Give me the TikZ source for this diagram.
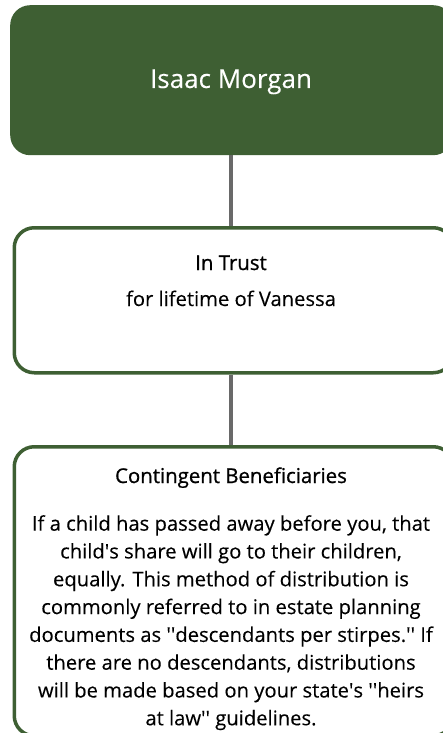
\documentclass[tikz,border=0pt]{standalone}
\usepackage{fontspec}
\setmainfont{Open Sans}
\newfontfamily\bodyf[FakeBold=0.15]{Open Sans}
\newfontfamily\semib[FakeBold=0.9]{Open Sans}
\newcommand\sq{\textquotesingle}
\definecolor{boxgreen}{HTML}{3E5F33}
\definecolor{linegray}{HTML}{696969}
\begin{document}
\begin{tikzpicture}[x=1bp,y=-1bp,
  topbox/.style={draw=none,fill=boxgreen,rounded corners=20bp,minimum width=443bp,minimum height=150bp,inner sep=0pt,anchor=north west},
  whitebox/.style={draw=boxgreen,line width=3.5bp,fill=white,rounded corners=20bp,inner sep=0pt,anchor=north west},
  conn/.style={draw=linegray,line width=3.5bp},
  ttl/.style={anchor=base,inner sep=0pt,font=\semib\fontsize{20.4bp}{24bp}\selectfont},
  txt/.style={anchor=north,inner sep=0pt,font=\bodyf\fontsize{20.2bp}{27.8bp}\selectfont,align=center}]
\useasboundingbox (0,0) rectangle (443,733);
\clip (0,0) rectangle (443,733);
\node[topbox] (root) at (10,5) {};
\node[whitebox,minimum width=439bp,minimum height=145bp] (trust) at (12.5,226) {};
\node[whitebox,minimum width=439bp,minimum height=289bp] (cont) at (12.5,445) {};
\draw[conn] (root.south -| 231,0) -- (trust.north -| 231,0);
\draw[conn] (trust.south -| 231,0) -- (cont.north -| 231,0);
\node[anchor=base,inner sep=0pt,text=white,font=\bodyf\fontsize{26bp}{30bp}\selectfont] (name) at (231,88) {Isaac Morgan};
\node[ttl] (t1) at (231,270) {In Trust};
\node[anchor=base,inner sep=0pt,font=\bodyf\fontsize{20.2bp}{24bp}\selectfont] (t2) at (231,306) {for lifetime of Vanessa};
\node[ttl] (c1) at (231,483) {Contingent Beneficiaries};
\node[txt] (c2) at (231,515) {If a child has passed away before you, that\\
child\sq s share will go to their children,\\
equally. This method of distribution is\\
commonly referred to in estate planning\\
documents as \sq\sq descendants per stirpes.\sq\sq\ If\\
there are no descendants, distributions\\
will be made based on your state\sq s \sq\sq heirs\\
at law\sq\sq\ guidelines.};
\end{tikzpicture}
\end{document}
